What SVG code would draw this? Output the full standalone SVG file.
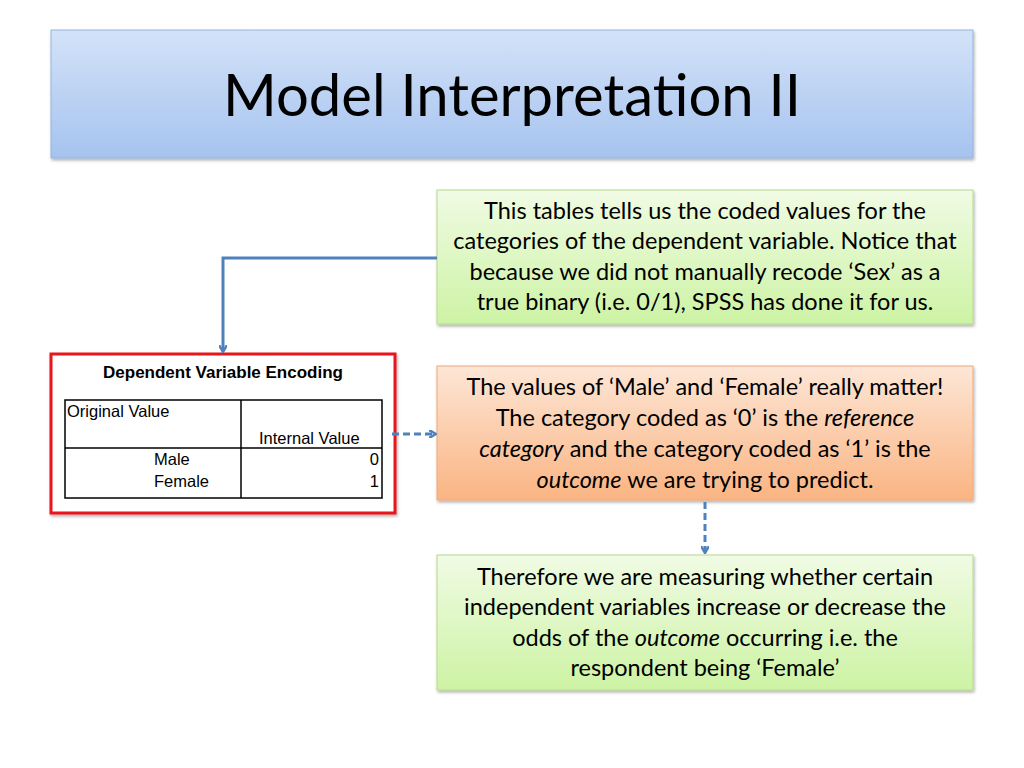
<svg xmlns="http://www.w3.org/2000/svg" width="1024" height="768" viewBox="0 0 1024 768">
<style>
.b{font-family:Lato,"Open Sans",sans-serif;font-size:23.5px;fill:#000;text-anchor:middle}
.t{font-family:"Liberation Sans",Arial,sans-serif;font-size:16.5px;fill:#000}
.c{fill:none;stroke:#4f81bd;stroke-width:3}
</style>
<defs>
<linearGradient id="gt" x1="0" y1="0" x2="0" y2="1"><stop offset="0" stop-color="#d3e2f8"/><stop offset="1" stop-color="#a6c3ef"/></linearGradient>
<linearGradient id="gg" x1="0" y1="0" x2="0" y2="1"><stop offset="0" stop-color="#f0fbe4"/><stop offset="1" stop-color="#cdf3a4"/></linearGradient>
<linearGradient id="go" x1="0" y1="0" x2="0" y2="1"><stop offset="0" stop-color="#fde6d6"/><stop offset="1" stop-color="#fab482"/></linearGradient>
<marker id="a" markerWidth="8" markerHeight="8" refX="6" refY="4" orient="auto" markerUnits="userSpaceOnUse"><path d="M0,0 L7,4 L0,8" fill="none" stroke="#4f81bd" stroke-width="2.5"/></marker>
<filter id="s" x="-5%" y="-5%" width="110%" height="115%"><feDropShadow dx="1" dy="2" stdDeviation="1.5" flood-opacity="0.3"/></filter>
</defs>
<g id="title"><rect x="51" y="30" width="922" height="128" fill="url(#gt)" stroke="#95b3e0" filter="url(#s)"/>
<text x="512" y="116" font-family="Lato,'Open Sans',sans-serif" font-size="58" text-anchor="middle">Model Interpretation II</text></g>
<g id="note1"><rect x="437" y="190" width="536" height="134" fill="url(#gg)" stroke="#b5d98c" filter="url(#s)"/>
<text class="b" x="705" y="219">This tables tells us the coded values for the</text>
<text class="b" x="705" y="249">categories of the dependent variable. Notice that</text>
<text class="b" x="705" y="280">because we did not manually recode ‘Sex’ as a</text>
<text class="b" x="705" y="310">true binary (i.e. 0/1), SPSS has done it for us.</text></g>
<g id="note2"><rect x="437" y="366" width="536" height="134" fill="url(#go)" stroke="#f0a878" filter="url(#s)"/>
<text class="b" x="705" y="395">The values of ‘Male’ and ‘Female’ really matter!</text>
<text class="b" x="705" y="426">The category coded as ‘0’ is the <tspan font-style="italic">reference</tspan></text>
<text class="b" x="705" y="457"><tspan font-style="italic">category</tspan> and the category coded as ‘1’ is the</text>
<text class="b" x="705" y="488"><tspan font-style="italic">outcome</tspan> we are trying to predict.</text></g>
<g id="note3"><rect x="437" y="555" width="536" height="135" fill="url(#gg)" stroke="#b5d98c" filter="url(#s)"/>
<text class="b" x="705" y="585">Therefore we are measuring whether certain</text>
<text class="b" x="705" y="615">independent variables increase or decrease the</text>
<text class="b" x="705" y="646">odds of the <tspan font-style="italic">outcome</tspan> occurring i.e. the</text>
<text class="b" x="705" y="676">respondent being ‘Female’</text></g>
<g id="table"><rect x="51" y="354" width="344" height="159" fill="#fff" stroke="#e8141b" stroke-width="3" filter="url(#s)"/>
<text x="223" y="378" font-family="'Liberation Sans',Arial,sans-serif" font-size="17" font-weight="bold" text-anchor="middle">Dependent Variable Encoding</text>
<rect x="65" y="400" width="317" height="98" fill="none" stroke="#000" stroke-width="1.5"/>
<line x1="241" y1="400" x2="241" y2="498" stroke="#000" stroke-width="1.5"/>
<line x1="65" y1="448" x2="382" y2="448" stroke="#000" stroke-width="1.5"/>
<text class="t" x="67" y="417">Original Value</text>
<text class="t" x="259" y="444">Internal Value</text>
<text class="t" x="154" y="465">Male</text>
<text class="t" x="154" y="487">Female</text>
<text class="t" x="379" y="465" text-anchor="end">0</text>
<text class="t" x="379" y="487" text-anchor="end">1</text></g>
<g id="connectors">
<path class="c" d="M437,258 H223 V351" marker-end="url(#a)"/>
<path class="c" d="M392,434 H435" stroke-dasharray="7,4" marker-end="url(#a)"/>
<path class="c" d="M705,502 V552" stroke-dasharray="7,4" marker-end="url(#a)"/>
</g>
</svg>
